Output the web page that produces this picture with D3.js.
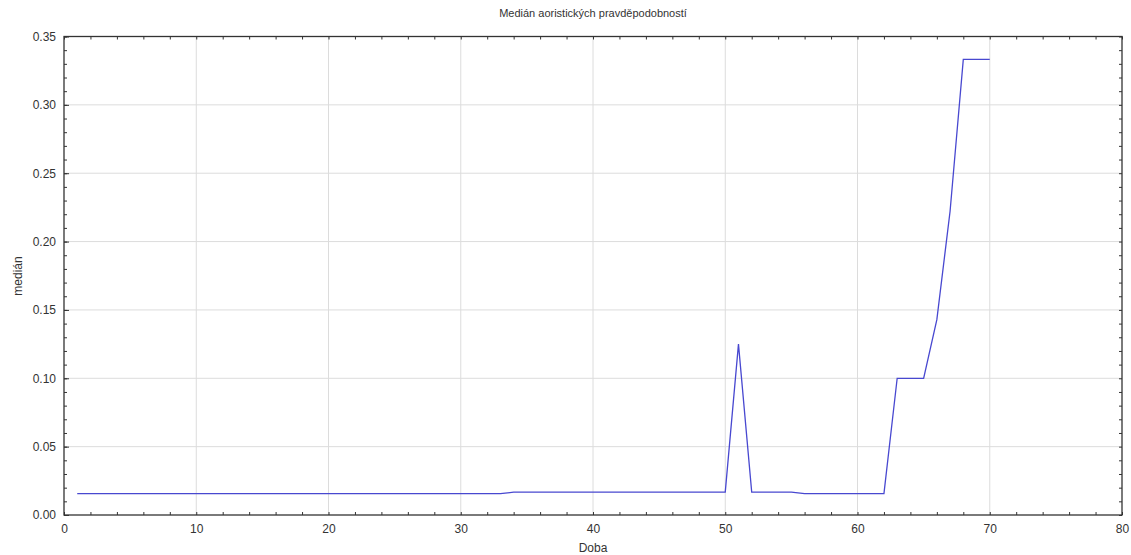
<!DOCTYPE html>
<meta charset="utf-8">
<style>
    body { margin: 0; background: #fff; }
    text { font-family: "Liberation Sans", Arial, sans-serif; fill: #333; }
    .title { font-size: 11px; text-anchor: middle; }
    .label { font-size: 12px; text-anchor: middle; }
    .tick text { font-size: 12px; }
</style>
<body>
<svg id="chart" width="1131" height="555"></svg>
<script src="https://d3js.org/d3.v7.min.js"></script>
<script>
    // time steps 1..70 and the median for each
    var doba = [];
    for (var i = 1; i <= 70; i++) doba.push(i);

    var median = [
        0.0156, 0.0156, 0.0156, 0.0156, 0.0156, 0.0156, 0.0156, 0.0156, 0.0156, 0.0156,
        0.0156, 0.0156, 0.0156, 0.0156, 0.0156, 0.0156, 0.0156, 0.0156, 0.0156, 0.0156,
        0.0156, 0.0156, 0.0156, 0.0156, 0.0156, 0.0156, 0.0156, 0.0156, 0.0156, 0.0156,
        0.0156, 0.0156, 0.0156, 0.0167, 0.0167, 0.0167, 0.0167, 0.0167, 0.0167, 0.0167,
        0.0167, 0.0167, 0.0167, 0.0167, 0.0167, 0.0167, 0.0167, 0.0167, 0.0167, 0.0167,
        0.125,  0.0167, 0.0167, 0.0167, 0.0167, 0.0156, 0.0156, 0.0156, 0.0156, 0.0156,
        0.0156, 0.0156, 0.1,    0.1,    0.1,    0.1429, 0.2222, 0.3333, 0.3333, 0.3333
    ];

    var xTicks = [0, 10, 20, 30, 40, 50, 60, 70, 80];
    var yTicks = [0, 0.05, 0.10, 0.15, 0.20, 0.25, 0.30, 0.35];

    var svg = d3.select("#chart"),
        pLeft = 64, pRight = 1122, pTop = 36.5, pBottom = 515;

    var x = d3.scaleLinear().domain([0, 80]).range([pLeft, pRight]);
    var y = d3.scaleLinear().domain([0, 0.35]).range([pBottom, pTop]);

    // grid
    svg.append("g").selectAll("line")
        .data(xTicks.slice(1, -1))
        .enter().append("line")
        .attr("x1", function(d) { return x(d); })
        .attr("x2", function(d) { return x(d); })
        .attr("y1", pTop).attr("y2", pBottom)
        .attr("stroke", "#dcdcdc").attr("stroke-width", 1);

    svg.append("g").selectAll("line")
        .data(yTicks.slice(1, -1))
        .enter().append("line")
        .attr("y1", function(d) { return y(d); })
        .attr("y2", function(d) { return y(d); })
        .attr("x1", pLeft).attr("x2", pRight)
        .attr("stroke", "#dcdcdc").attr("stroke-width", 1);

    // axes with inward ticks, minor ticks too
    var xMinor = d3.range(0, 81, 2), yMinor = d3.range(0, 0.3501, 0.01);

    function tickAxis(axis, g, vals, size) {
        g.call(axis.tickValues(vals).tickSize(size).tickFormat(""));
        g.select(".domain").remove();
        g.selectAll(".tick line").attr("stroke", "#333");
    }

    tickAxis(d3.axisTop(x), svg.append("g").attr("transform", "translate(0," + pBottom + ")"), xMinor, 3);
    tickAxis(d3.axisBottom(x), svg.append("g").attr("transform", "translate(0," + pTop + ")"), xMinor, 3);
    tickAxis(d3.axisRight(y), svg.append("g").attr("transform", "translate(" + pLeft + ",0)"), yMinor, 3);
    tickAxis(d3.axisLeft(y), svg.append("g").attr("transform", "translate(" + pRight + ",0)"), yMinor, 3);

    // labels
    var xl = svg.append("g").attr("transform", "translate(0," + pBottom + ")")
        .call(d3.axisBottom(x).tickValues(xTicks).tickSize(0).tickPadding(9).tickFormat(d3.format("d")));
    xl.select(".domain").remove();

    var yl = svg.append("g").attr("transform", "translate(" + pLeft + ",0)")
        .call(d3.axisLeft(y).tickValues(yTicks).tickSize(-5).tickPadding(8).tickFormat(d3.format(".2f")));
    yl.select(".domain").remove();
    yl.selectAll(".tick line").attr("stroke", "#333");

    svg.selectAll(".tick text").style("fill", "#333").style("font-family", "'Liberation Sans', Arial, sans-serif").style("font-size", "12px");

    // frame
    svg.append("rect")
        .attr("x", pLeft).attr("y", pTop)
        .attr("width", pRight - pLeft).attr("height", pBottom - pTop)
        .attr("fill", "none").attr("stroke", "#333").attr("stroke-width", 1.3);

    // line
    var line = d3.line()
        .x(function(d, i) { return x(doba[i]); })
        .y(function(d) { return y(d); });

    svg.append("path")
        .datum(median)
        .attr("d", line)
        .attr("fill", "none")
        .attr("stroke", "#4848d0")
        .attr("stroke-width", 1.3);

    svg.append("text").attr("class", "title").attr("x", 593).attr("y", 17)
        .text("Medián aoristických pravděpodobností");
    svg.append("text").attr("class", "label").attr("x", 593).attr("y", 552).text("Doba");
    svg.append("text").attr("class", "label")
        .attr("transform", "translate(22,276) rotate(-90)")
        .text("medián");
</script>
</body>
